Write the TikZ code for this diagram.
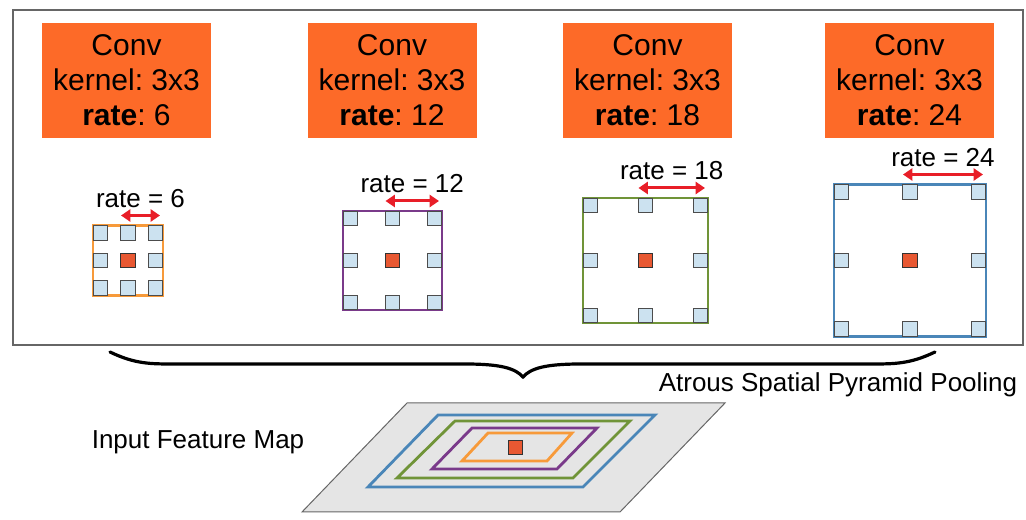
\documentclass[tikz,border=0pt]{standalone}
\usepackage{fontspec}
\setmainfont{Liberation Sans}
\usepackage{tikz}
\usetikzlibrary{positioning}
\usetikzlibrary{arrows.meta}
\usepackage{xcolor}
\frenchspacing
\definecolor{convorange}{RGB}{253,106,40}
\definecolor{ringorange}{RGB}{247,154,58}
\definecolor{ringpurple}{RGB}{122,58,138}
\definecolor{ringgreen}{RGB}{112,148,56}
\definecolor{ringblue}{RGB}{74,134,184}
\definecolor{cellblue}{RGB}{204,226,240}
\definecolor{centerred}{RGB}{232,88,50}
\definecolor{ratered}{RGB}{232,30,40}
\tikzset{
    convbox/.style={fill=convorange, minimum width=126.75pt, minimum height=86.25pt, inner sep=0pt,
        align=center, font=\fontsize{22.5}{26.25}\selectfont},
    ring/.style={draw=#1, line width=2.1pt},
    cell/.style={draw=black!70, fill=cellblue, line width=0.75pt, minimum size=11pt, inner sep=0pt},
    centercell/.style={cell, fill=centerred, draw=black!80},
    ratearrow/.style={draw=ratered, line width=2.25pt, {Triangle[length=7pt,width=9pt]}-{Triangle[length=7pt,width=9pt]}},
    ratelabel/.style={font=\fontsize{19.5}{23}\selectfont, inner sep=2pt},
    plainlabel/.style={font=\fontsize{19.5}{23}\selectfont, inner sep=0pt}
}
\begin{document}
\begin{tikzpicture}[x=0.75pt,y=-0.75pt]
    \useasboundingbox (0,0) rectangle (1026,520);
    \draw[black!60, line width=1.1pt] (13,10) rectangle (1023,345);
    \foreach \n/\bx/\gx/\h/\c/\r in {1/126.5/128/35/ringorange/6, 2/392/392.5/49.5/ringpurple/12,
        3/647.5/645.5/62.5/ringgreen/18, 4/909.5/910/76/ringblue/24}
    {
        \node[convbox] (conv\n) at (\bx,80.5) {Conv\\kernel: 3x3\\\textbf{rate}: \r};
        \draw[ring=\c] (\gx-\h,260.5-\h) rectangle (\gx+\h,260.5+\h);
        \foreach \dx/\dy [count=\m] in {-1/-1,0/-1,1/-1,-1/0,1/0,-1/1,0/1,1/1}
            \node[cell] (cell\n-\m) at (\gx+\dx*\h-\dx*7.5, 260.5+\dy*\h-\dy*7.5) {};
        \node[centercell] (mid\n) at (\gx,260.5) {};
        \coordinate (a\n) at (\gx-7,260.5-\h-10);
        \coordinate (b\n) at (\gx+\h-3,260.5-\h-10);
        \draw[ratearrow] (a\n) -- node[ratelabel, above=3pt] (rate\n) {rate = \r} (b\n);
    }
    % brace
    \draw[line width=2.4pt, line cap=round] (110,352) .. controls (135,364) and (150,364) .. (175,364)
        -- (465,364) .. controls (500,364) and (515,368) .. (523,377)
        .. controls (531,368) and (546,364) .. (581,364) -- (870,364)
        .. controls (895,364) and (910,364) .. (935,352);
    \node[plainlabel] (aspp) at (838,385) {Atrous Spatial Pyramid Pooling};
    % input feature map
    \draw[black!60, fill=black!10, line width=0.75pt] (302,512) -- (407,403) -- (725,403) -- (620,512) -- cycle;
    \draw[ring=ringblue] (368,487) -- (438,415) -- (655,415) -- (583,487) -- cycle;
    \draw[ring=ringgreen] (397,478) -- (455,421) -- (630,421) -- (573,478) -- cycle;
    \draw[ring=ringpurple] (432,469) -- (472,428) -- (597,428) -- (557,469) -- cycle;
    \draw[ring=ringorange] (462,461) -- (488,433) -- (572,433) -- (547,461) -- cycle;
    \node[centercell] (fmid) at (515.5,447.5) {};
    \node[plainlabel] (fmap) at (198,442) {Input Feature Map};
\end{tikzpicture}
\end{document}
